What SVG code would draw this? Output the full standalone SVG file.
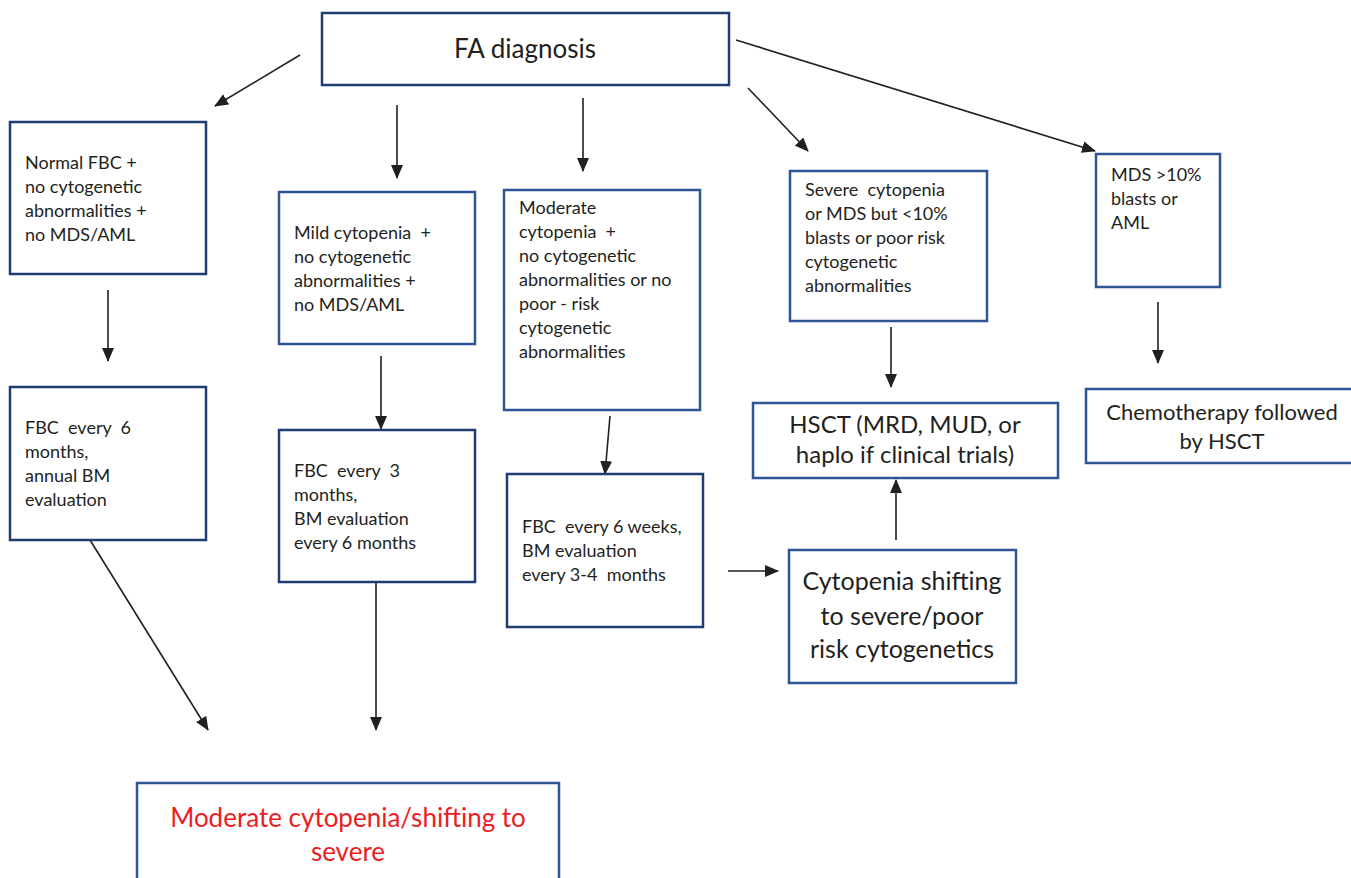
<svg xmlns="http://www.w3.org/2000/svg" width="1351" height="878" viewBox="0 0 1351 878">
<defs>
<marker id="ah" markerUnits="userSpaceOnUse" markerWidth="14" markerHeight="12" refX="13" refY="6" orient="auto">
<path d="M0,0 L14,6 L0,12 Z" fill="#231f20"/>
</marker>
<style>
.box{fill:#fff;stroke:#2f5597;stroke-width:2.5}
.dk{stroke:#1f3d73}
.t{font-family:Lato,"Open Sans",sans-serif;font-size:18px;fill:#231f20;white-space:pre}
.b{font-family:Lato,"Open Sans",sans-serif;font-size:25px;fill:#231f20;text-anchor:middle;white-space:pre}
.m{font-family:Lato,"Open Sans",sans-serif;font-size:22px;fill:#231f20;text-anchor:middle}
.c{stroke:#231f20;stroke-width:1.6;fill:none;marker-end:url(#ah)}
</style>
</defs>
<rect width="1351" height="878" fill="#fff"/>
<g id="connectors">
<line class="c" x1="300" y1="55" x2="215" y2="106"/>
<line class="c" x1="397" y1="105" x2="397" y2="178"/>
<line class="c" x1="583" y1="98" x2="583" y2="171"/>
<line class="c" x1="748" y1="88" x2="808" y2="151"/>
<line class="c" x1="736" y1="40" x2="1095" y2="151"/>
<line class="c" x1="108" y1="290" x2="108" y2="361"/>
<line class="c" x1="381" y1="356" x2="381" y2="429"/>
<line class="c" x1="610" y1="416" x2="605" y2="474"/>
<line class="c" x1="891" y1="327" x2="891" y2="387"/>
<line class="c" x1="1158" y1="302" x2="1158" y2="363"/>
<line class="c" x1="896" y1="540" x2="896" y2="480"/>
<line class="c" x1="728" y1="571" x2="778" y2="571"/>
<line class="c" x1="90" y1="540" x2="208" y2="730"/>
<line class="c" x1="376" y1="582" x2="376" y2="730"/>
</g>
<g id="fa">
<rect class="box dk" x="322" y="13" width="407" height="72"/>
<text class="b" x="525" y="58" style="font-size:26px">FA diagnosis</text>
</g>
<g id="normal">
<rect class="box dk" x="10" y="122" width="196" height="152"/>
<text class="t"><tspan x="25" y="169">Normal FBC +</tspan><tspan x="25" y="193">no cytogenetic</tspan><tspan x="25" y="217">abnormalities +</tspan><tspan x="25" y="241">no MDS/AML</tspan></text>
</g>
<g id="mild">
<rect class="box" x="279" y="192" width="196" height="152"/>
<text class="t"><tspan x="294" y="239">Mild cytopenia  +</tspan><tspan x="294" y="263">no cytogenetic</tspan><tspan x="294" y="287">abnormalities +</tspan><tspan x="294" y="311">no MDS/AML</tspan></text>
</g>
<g id="moderate">
<rect class="box" x="504" y="190" width="196" height="220"/>
<text class="t"><tspan x="519" y="214">Moderate</tspan><tspan x="519" y="238">cytopenia  +</tspan><tspan x="519" y="262">no cytogenetic</tspan><tspan x="519" y="286">abnormalities or no</tspan><tspan x="519" y="310">poor - risk</tspan><tspan x="519" y="334">cytogenetic</tspan><tspan x="519" y="358">abnormalities</tspan></text>
</g>
<g id="severe">
<rect class="box" x="790" y="171" width="197" height="150"/>
<text class="t"><tspan x="805" y="196">Severe  cytopenia</tspan><tspan x="805" y="220">or MDS but &lt;10%</tspan><tspan x="805" y="244">blasts or poor risk</tspan><tspan x="805" y="268">cytogenetic</tspan><tspan x="805" y="292">abnormalities</tspan></text>
</g>
<g id="mds">
<rect class="box" x="1096" y="154" width="124" height="133"/>
<text class="t"><tspan x="1111" y="181">MDS &gt;10%</tspan><tspan x="1111" y="205">blasts or</tspan><tspan x="1111" y="229">AML</tspan></text>
</g>
<g id="fbc6m">
<rect class="box dk" x="10" y="387" width="196" height="153"/>
<text class="t"><tspan x="25" y="434">FBC  every  6</tspan><tspan x="25" y="458">months,</tspan><tspan x="25" y="482">annual BM</tspan><tspan x="25" y="506">evaluation</tspan></text>
</g>
<g id="fbc3m">
<rect class="box dk" x="279" y="430" width="196" height="152"/>
<text class="t"><tspan x="294" y="477">FBC  every  3</tspan><tspan x="294" y="501">months,</tspan><tspan x="294" y="525">BM evaluation</tspan><tspan x="294" y="549">every 6 months</tspan></text>
</g>
<g id="fbc6w">
<rect class="box dk" x="507" y="474" width="196" height="153"/>
<text class="t"><tspan x="522" y="533">FBC  every 6 weeks,</tspan><tspan x="522" y="557">BM evaluation</tspan><tspan x="522" y="581">every 3-4  months</tspan></text>
</g>
<g id="hsct">
<rect class="box" x="753" y="403" width="305" height="75"/>
<text class="b" style="font-size:24px"><tspan x="905" y="433">HSCT (MRD, MUD, or</tspan><tspan x="905" y="463">haplo if clinical trials)</tspan></text>
</g>
<g id="chemo">
<rect class="box" x="1086" y="389" width="268" height="74"/>
<text class="m"><tspan x="1222" y="420">Chemotherapy followed</tspan><tspan x="1222" y="449">by HSCT</tspan></text>
</g>
<g id="shift">
<rect class="box" x="789" y="550" width="227" height="133"/>
<text class="b"><tspan x="902" y="590">Cytopenia shifting</tspan><tspan x="902" y="625">to severe/poor</tspan><tspan x="902" y="658">risk cytogenetics</tspan></text>
</g>
<g id="modshift">
<rect class="box" x="137" y="783" width="422" height="110"/>
<text class="b" style="fill:#ed1c24;font-size:26px"><tspan x="348" y="827">Moderate cytopenia/shifting to</tspan><tspan x="348" y="861">severe</tspan></text>
</g>
</svg>
